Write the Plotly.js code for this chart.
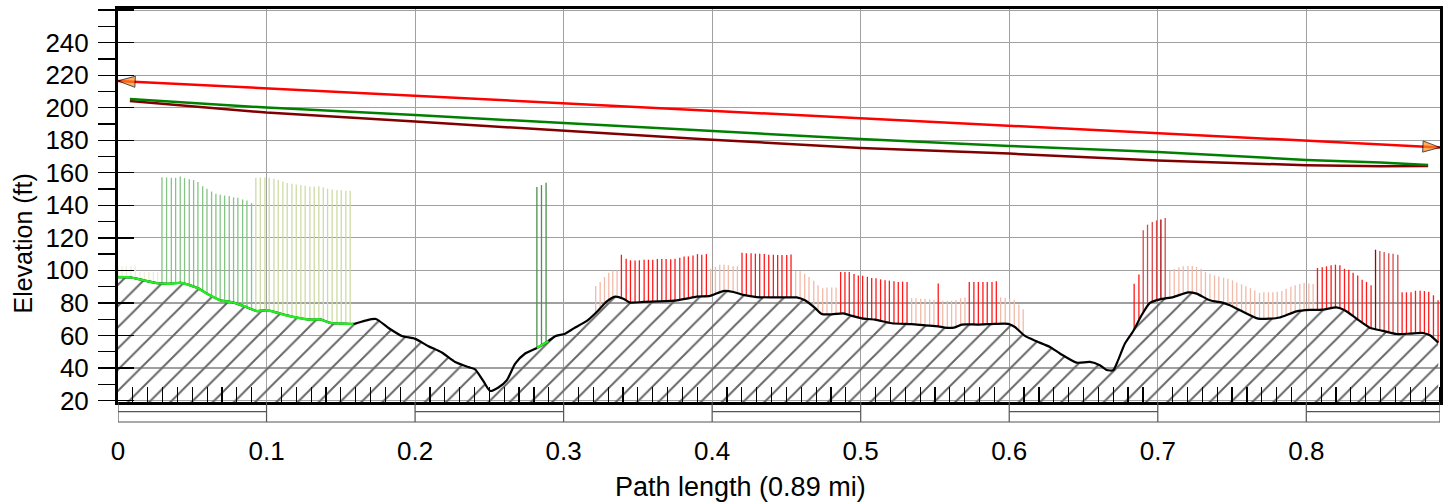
<!DOCTYPE html>
<html><head><meta charset="utf-8">
<script src="https://cdn.plot.ly/plotly-3.0.1.min.js"></script>
<style>html,body{margin:0;padding:0;background:#fff}#chart{width:1449px;height:504px}</style>
</head><body><div id="chart"></div>
<script>
// ---- Terrain profile (path length in mi, elevation in ft)
const terrainX = [0,0.0083,0.0172,0.0262,0.0352,0.0419,0.0487,0.0543,0.0599,0.0688,0.0778,0.0845,0.0935,0.1003,0.107,0.116,0.129,0.136,0.143,0.1496,0.1586,0.1664,0.1736,0.1821,0.1911,0.2001,0.209,0.218,0.227,0.236,0.2404,0.246,0.2505,0.2561,0.2618,0.2674,0.2741,0.282,0.2898,0.2943,0.301,0.3066,0.3156,0.3223,0.3291,0.3347,0.3402,0.3448,0.3537,0.3649,0.3762,0.3829,0.3896,0.3986,0.4075,0.4143,0.421,0.43,0.4412,0.4524,0.4569,0.4625,0.4692,0.4737,0.4805,0.4883,0.494,0.5007,0.5096,0.5209,0.5343,0.5433,0.5522,0.5567,0.5635,0.568,0.5791,0.5904,0.5993,0.6038,0.6106,0.6184,0.6274,0.6341,0.6453,0.6543,0.661,0.6655,0.67,0.6733,0.6779,0.6834,0.6891,0.6947,0.7014,0.7104,0.7205,0.7261,0.735,0.744,0.7485,0.7553,0.7676,0.7755,0.7822,0.7934,0.8024,0.8113,0.8203,0.8259,0.8338,0.8427,0.8517,0.8607,0.8696,0.8786,0.8832,0.8888];
const terrainY = [95.9,95.7,93.9,92.2,91.8,92.4,90.8,88.8,85.7,81.6,80.2,78.1,75.0,75.5,74.0,71.8,69.7,69.9,67.7,67.3,67.1,69.1,70.1,64.6,59.7,57.9,53.4,49.5,43.7,40.5,39.2,31.9,25.9,28.0,32.5,42.7,48.9,52.3,56.6,59.5,61.1,64.2,68.9,74.4,81.0,83.9,82.6,80.2,80.6,81.0,81.6,82.6,83.9,84.3,87.3,86.7,84.9,83.6,83.4,83.4,83.4,81.6,76.9,73.2,73.0,73.6,72.0,70.5,69.7,67.5,66.9,66.2,65.6,64.8,65.0,66.7,66.7,67.1,67.1,65.2,59.7,56.4,52.9,48.9,43.3,43.7,41.7,38.8,38.6,44.8,55.0,62.6,72.4,80.0,82.2,83.6,86.5,85.7,81.6,80.0,78.5,75.5,70.3,70.3,71.0,74.8,75.7,75.9,77.3,75.5,70.3,64.8,62.8,60.9,61.1,61.5,60.1,55.6];
const greenTerrainRanges = [[0, 0.1586], [0.282, 0.2898]];

// ---- Upper lines
const losX = [0, 0.89];
const losY = [216.5, 175.6];
const upperGreenX = [0.008,0.1,0.2,0.3,0.4,0.5,0.6,0.7,0.8,0.85,0.882];
const upperGreenY = [205.4,200.1,195.5,190.6,185.5,180.8,176.5,172.8,167.9,166.3,164.8];
const upperMaroonX = [0.008,0.1,0.2,0.3,0.4,0.5,0.6,0.7,0.8,0.85,0.882];
const upperMaroonY = [204.2,197.0,191.5,185.7,180.3,175.3,171.8,167.6,164.6,164.0,164.2];

// ---- Vertical clearance bars (x in mi, top elevation in ft)
const faintX = [0.0,0.0027,0.0056,0.0087,0.0116,0.0148,0.0177,0.0208,0.0238,0.0267];
const faintTop = [102.5,102.5,102.5,102.5,102.5,99,99,99,99,99];
const darkGreenX = [0.0296,0.0327,0.0359,0.0388,0.0419,0.0448,0.0480,0.0509,0.0538,0.0570,0.0599,0.0630,0.0659,0.0688,0.0718,0.0749,0.0778,0.0807,0.0839,0.0868,0.0899];
const darkGreenTop = [157.3,157.1,156.9,156.9,157.7,156.7,156.1,155.5,154.3,151.8,150.2,148.5,147.1,146.5,146.1,145.7,144.9,144.6,143.6,143.0,141.4];
const lightGreenX = [0.0928,0.0958,0.0989,0.1018,0.1050,0.1079,0.1110,0.1139,0.1171,0.1200,0.1231,0.1260,0.1292,0.1321,0.1352,0.1382,0.1411,0.1442,0.1474,0.1503,0.1534,0.1563];
const lightGreenTop = [156.9,157.1,157.1,156.9,156.3,155.7,154.7,153.7,153.2,152.8,152.4,152.0,151.6,151.6,151.8,151.0,150.2,149.8,149.2,149.2,148.9,148.9];
const spikeGreenX = [0.2820,0.2851,0.2882];
const spikeGreenTop = [151.2,152.4,153.9];
const paleRedX = [0.3216,0.3246,0.3275,0.3304,0.3331,0.3360,
  0.3990,0.4022,0.4051,0.4080,0.4109,0.4141,0.4170,
  0.4562,0.4592,0.4623,0.4652,0.4684,0.4713,0.4744,0.4773,0.4805,0.4834,
  0.5343,0.5372,0.5404,0.5433,0.5464,0.5493,
  0.5552,0.5583,0.5612,0.5641,0.5673,0.5702,
  0.5942,0.5973,0.6003,0.6034,0.6065,0.6094,
  0.7081,0.7111,0.7142,0.7171,0.7203,0.7232,0.7261,0.7292,0.7321,0.7351,0.7382,0.7411,0.7443,0.7472,0.7503,0.7532,0.7564,0.7593,0.7624,0.7653,0.7685,0.7714,0.7745,0.7775,0.7804,0.7835,0.7864,0.7896,0.7925,0.7956,0.7985,0.8017,0.8046];
const paleRedTop = [90.4,92.9,95.9,98.6,100.0,100.0,
  101.0,102.1,103.5,103.5,103.1,102.5,102.5,
  99.6,99.4,98.0,95.9,93.7,90.8,89.0,89.4,89.4,89.4,
  82.8,82.8,82.6,82.6,82.2,82.0,
  81.4,81.4,81.4,81.8,82.8,83.4,
  83.4,83.2,82.4,82.0,79.1,76.1,
  99.8,100.8,101.9,102.5,102.7,102.7,102.1,101.0,99.0,98.0,96.9,96.3,95.5,94.9,93.9,92.6,91.4,90.2,89.1,87.7,86.1,86.5,86.5,86.5,86.9,87.3,88.7,90.0,90.8,91.6,92.2,92.0,91.6];
const redX = [0.3389,0.3421,0.3450,0.3481,0.3510,0.3542,0.3571,0.3600,0.3631,0.3661,0.3690,0.3721,0.3750,0.3782,0.3811,0.3840,0.3871,0.3901,0.3930,0.3961,
  0.4201,0.4230,0.4262,0.4291,0.4320,0.4351,0.4381,0.4412,0.4441,0.4470,0.4502,0.4531,
  0.4865,0.4894,0.4923,0.4955,0.4984,0.5013,0.5045,0.5074,0.5103,0.5134,0.5164,0.5193,0.5224,0.5253,0.5282,0.5312,
  0.5522,
  0.5731,0.5762,0.5792,0.5823,0.5852,0.5884,0.5913,
  0.6841,0.6873,
  0.8075,0.8107,0.8136,0.8167,0.8196,0.8226,0.8257,0.8286,0.8315,0.8346,0.8376,0.8405,0.8436,
  0.8645,0.8674,0.8705,0.8735,0.8766,0.8795,0.8824,0.8856,0.8887];
const redTop = [109.6,107.2,106.2,106.0,106.2,106.6,106.6,106.6,107.0,107.0,107.0,106.8,107.2,107.8,108.6,108.6,109.2,110.0,109.6,110.0,
  110.9,110.5,110.5,110.3,110.3,110.0,109.6,109.6,109.4,109.4,109.5,109.8,
  99.0,99.0,99.0,97.8,96.9,96.7,96.1,95.3,95.1,94.5,93.9,93.7,93.3,92.9,93.1,92.9,
  91.9,
  92.9,92.9,92.9,92.9,92.9,92.9,93.3,
  91.8,97.4,
  101.5,101.9,102.5,103.1,103.5,103.1,101.0,100.4,98.6,96.9,94.3,92.9,90.8,
  86.5,86.5,86.5,87.5,87.5,87.3,86.9,84.7,81.6];
const midRedX = [0.6902,0.6931,0.6963,0.6992,0.7050,0.8495,0.8524,0.8555,0.8584,0.8616];
const midRedTop = [124.6,128.1,129.7,130.7,132.2,111.9,111.3,110.5,110.3,109.6];
const darkRedX = [0.7021,0.8466];
const darkRedTop = [131.3,112.7];

// ---- Axis ticks / scale bar / titles
const xScaleBreaks = [0,0.1,0.2,0.3,0.4,0.5,0.6,0.7,0.8,0.89];
const xTitle = 'Path length (0.89 mi)';
const yTitle = 'Elevation (ft)';

function terrainAt(x){
  for(let i=0;i<terrainX.length-1;i++){
    if(x>=terrainX[i] && x<=terrainX[i+1]){
      const t=(x-terrainX[i])/(terrainX[i+1]-terrainX[i]);
      return terrainY[i]+t*(terrainY[i+1]-terrainY[i]);
    }
  }
  return terrainY[terrainY.length-1];
}
function barTrace(xs, tops, color, width){
  const x=[], y=[];
  xs.forEach((v,i)=>{ x.push(v,v,null); y.push(terrainAt(v), tops[i], null); });
  return {x, y, mode:'lines', line:{color, width}, hoverinfo:'skip', showlegend:false};
}

const traces = [];
// hatched terrain
traces.push({x:terrainX, y:terrainY, mode:'lines', fill:'tozeroy', line:{color:'rgba(0,0,0,0)', width:0, shape:'spline', smoothing:0.6},
  fillcolor:'rgba(0,0,0,0)', fillpattern:{shape:'/', size:15, solidity:0.13, fgcolor:'#666666', bgcolor:'rgba(0,0,0,0)', fgopacity:1},
  showlegend:false, hoverinfo:'skip'});
traces.push(barTrace(faintX, faintTop, '#eeecd6', 1.2));
traces.push(barTrace(darkGreenX, darkGreenTop, '#86c486', 1.3));
traces.push(barTrace(lightGreenX, lightGreenTop, '#cddba6', 1.3));
traces.push(barTrace(spikeGreenX, spikeGreenTop, '#4f8f4f', 1.3));
traces.push(barTrace(paleRedX, paleRedTop, '#f2baa9', 1.3));
traces.push(barTrace(redX, redTop, '#ff1a1a', 1.3));
traces.push(barTrace(midRedX, midRedTop, '#d94848', 1.3));
traces.push(barTrace(darkRedX, darkRedTop, '#a80000', 1.3));
// terrain line
traces.push({x:terrainX, y:terrainY, mode:'lines', line:{color:'#000', width:2.2, shape:'spline', smoothing:0.6}, showlegend:false, hoverinfo:'skip'});
greenTerrainRanges.forEach(r=>{
  const gx=[], gy=[];
  terrainX.forEach((v,i)=>{ if(v>=r[0]-1e-9 && v<=r[1]+1e-9){ gx.push(v); gy.push(terrainY[i]); } });
  traces.push({x:gx, y:gy, mode:'lines', line:{color:'#22ee22', width:2.4, shape:'spline', smoothing:0.6}, showlegend:false, hoverinfo:'skip'});
});
// upper lines
traces.push({x:upperMaroonX, y:upperMaroonY, mode:'lines', line:{color:'#800000', width:2.5}, showlegend:false});
traces.push({x:upperGreenX, y:upperGreenY, mode:'lines', line:{color:'#008000', width:2.5}, showlegend:false});
traces.push({x:losX, y:losY, yaxis:'y2', mode:'lines', line:{color:'#ff0000', width:2.5}, showlegend:false});
// arrow heads at both ends of the line of sight
traces.push({x:[losX[0], losX[1]], y:[losY[0], losY[1]], yaxis:'y2', mode:'markers', cliponaxis:false,
  marker:{symbol:'arrow', angleref:'previous', size:[0,18], color:'#ff8c1a', line:{color:'#000', width:1}}, showlegend:false});
traces.push({x:[losX[1], losX[0]], y:[losY[1], losY[0]], yaxis:'y2', mode:'markers', cliponaxis:false,
  marker:{symbol:'arrow', angleref:'previous', size:[0,18], color:'#ff8c1a', line:{color:'#000', width:1}}, showlegend:false});

// scale bar shapes below the axis
const shapes = [];
const yTop = 0, yMid = -0.0247, yBot = -0.0509;
for(let i=0;i<xScaleBreaks.length-1;i++){
  const a=xScaleBreaks[i], b=xScaleBreaks[i+1];
  shapes.push({type:'line', xref:'x', yref:'paper', x0:a, x1:b, y0:yBot, y1:yBot, line:{color:'#555', width:1.2}});
  if(i%2===0) shapes.push({type:'line', xref:'x', yref:'paper', x0:a, x1:b, y0:yMid, y1:yMid, line:{color:'#555', width:1.2}});
}
xScaleBreaks.forEach(v=>shapes.push({type:'line', xref:'x', yref:'paper', x0:v, x1:v, y0:yTop, y1:yBot, line:{color:'#555', width:1.2}}));

const yRange=[19.08, 260.7];
const font = {family:'"Liberation Sans", Arial, sans-serif', color:'#000'};
const layout = {
  width:1449, height:504,
  margin:{l:118, r:9, t:9, b:102, pad:0},
  paper_bgcolor:'#fff', plot_bgcolor:'#fff',
  font:Object.assign({size:26}, font),
  showlegend:false,
  xaxis:{range:[0,0.89], dtick:0.1, tick0:0, ticks:'', showgrid:true, gridcolor:'#a0a0a0', gridwidth:1,
    minor:{ticks:'inside', ticklen:15, dtick:0.01, tick0:0, tickcolor:'#000', tickwidth:1.2, showgrid:false},
    showline:true, linewidth:3, linecolor:'#000', mirror:true, zeroline:false, automargin:false,
    tickfont:Object.assign({size:26}, font), ticklabelstandoff:24},
  yaxis:{range:yRange, dtick:20, tick0:0, ticks:'outside', ticklen:17, tickcolor:'#000', tickwidth:1.3,
    minor:{ticks:'outside', ticklen:17, dtick:10, tick0:0, tickcolor:'#000', tickwidth:1.3, showgrid:false},
    showgrid:true, gridcolor:'#a0a0a0', gridwidth:1.2, showline:true, linewidth:3, linecolor:'#000', mirror:true,
    zeroline:false, automargin:false, tickfont:Object.assign({size:26}, font), ticklabelstandoff:4},
  yaxis2:{overlaying:'y', side:'left', range:yRange, dtick:20, tick0:0, ticks:'inside', ticklen:16, tickcolor:'#000', tickwidth:1.3,
    showticklabels:false, showgrid:false, showline:false, zeroline:false, automargin:false},
  annotations:[
    {text:xTitle, xref:'paper', yref:'paper', x:0.471, y:-0.2163, xanchor:'center', yanchor:'middle', showarrow:false, font:Object.assign({size:27}, font)},
    {text:yTitle, xref:'paper', yref:'paper', x:-0.0726, y:0.4033, xanchor:'center', yanchor:'middle', textangle:-90, showarrow:false, font:Object.assign({size:25}, font)}
  ],
  shapes
};
Plotly.newPlot('chart', traces, layout, {displayModeBar:false, staticPlot:true});
</script></body></html>
